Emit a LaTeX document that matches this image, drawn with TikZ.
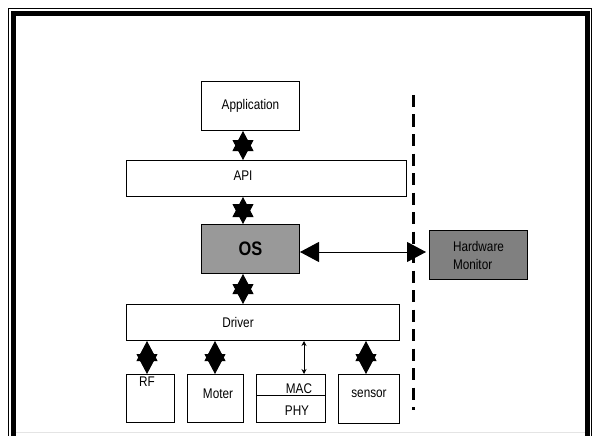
\documentclass[tikz,border=0pt]{standalone}
\usepackage{fontspec}
\setmainfont{Liberation Sans}[FakeStretch=0.84]
\usetikzlibrary{arrows.meta}
\definecolor{osgray}{HTML}{999999}
\definecolor{hwgray}{HTML}{808080}
\definecolor{rulegray}{HTML}{E4E4E4}
\begin{document}
\begin{tikzpicture}[x=1pt,y=-1pt,
  box/.style={draw,line width=1pt,inner sep=0pt,anchor=north west,
    font=\fontsize{14}{18}\selectfont},
  lbl/.style={inner sep=0pt,font=\fontsize{14}{18}\selectfont},
  bigtip/.tip={Triangle[length=20pt,width=21pt]},
  dbl/.style={line width=1pt,bigtip-bigtip},
  slim/.style={line width=0.9pt,{Stealth[length=5pt,width=5pt]}-{Stealth[length=5pt,width=5pt]}},
  sidelink/.style={line width=1pt,{Triangle[length=19pt,width=20pt]}-{Triangle[length=19pt,width=20pt]}}]
\useasboundingbox (0,0) rectangle (595,436);

% page frame: thin outer rule and thick inner rule, open at the bottom
\draw[line width=1.2pt,line join=miter] (8.5,436) -- (8.5,8.5) -- (591.5,8.5) -- (591.5,436);
\draw[line width=5pt,line join=miter] (13.5,436) -- (13.5,13.5) -- (587.5,13.5) -- (587.5,436);
\draw[rulegray,line width=1pt] (16,432.5) -- (585,432.5);

% layers of the software stack
\node[box,minimum width=98pt,minimum height=49pt] (app) at (201,81) {Application};
\node[box,minimum width=280pt,minimum height=36pt] (api) at (126,160) {};
\node[box,fill=osgray,minimum width=98pt,minimum height=49pt,
      font=\fontsize{19.5}{20}\selectfont\bfseries] (os) at (201,224) {OS};
\node[box,minimum width=273pt,minimum height=36pt] (drv) at (126,304) {};

% devices under the driver
\node[box,minimum width=48pt,minimum height=48pt] (rf) at (126,374) {};
\node[box,minimum width=56pt,minimum height=48pt] (mot) at (187,374) {};
\node[box,minimum width=69pt,minimum height=21pt] (mac) at (256,374) {};
\node[box,minimum width=69pt,minimum height=27pt] (phy) at (256,395) {};
\node[box,minimum width=61pt,minimum height=49pt] (sen) at (338,374) {};

% external monitor
\node[box,fill=hwgray,minimum width=98pt,minimum height=49pt,align=left] (hw) at (429,230) {Hardware\\Monitor};

% labels
\node[lbl] (apilbl) at (243,176) {API};
\node[lbl] (drvlbl) at (238,322) {Driver};
\node[lbl] (rflbl) at (147,382) {RF};
\node[lbl] (motlbl) at (218,394) {Moter};
\node[lbl] (maclbl) at (299,389) {MAC};
\node[lbl] (phylbl) at (297,411) {PHY};
\node[lbl] (senlbl) at (369,394) {sensor};

% boundary between stack and monitor
\coordinate (dtop) at (413.5,95);
\coordinate (dbot) at (413.5,410);
\draw[line width=3.5pt,dash pattern=on 12pt off 7.5pt] (dtop) -- (dbot);

% connector axes
\coordinate (ax) at (243,0);
\coordinate (rfx) at (147,0);
\coordinate (motx) at (215,0);
\coordinate (macx) at (304,0);
\coordinate (senx) at (366,0);
\coordinate (sidey) at (0,252);

\draw[dbl] (app.south -| ax) -- (api.north -| ax);
\draw[dbl] (api.south -| ax) -- (os.north -| ax);
\draw[dbl] (os.south -| ax) -- (drv.north -| ax);
\draw[dbl] (drv.south -| rfx) -- (rf.north -| rfx);
\draw[dbl] (drv.south -| motx) -- (mot.north -| motx);
\draw[slim] (drv.south -| macx) -- (mac.north -| macx);
\draw[dbl] (drv.south -| senx) -- (sen.north -| senx);
\draw[sidelink,shorten >=3pt] (os.east |- sidey) -- (hw.west |- sidey);
\end{tikzpicture}
\end{document}
